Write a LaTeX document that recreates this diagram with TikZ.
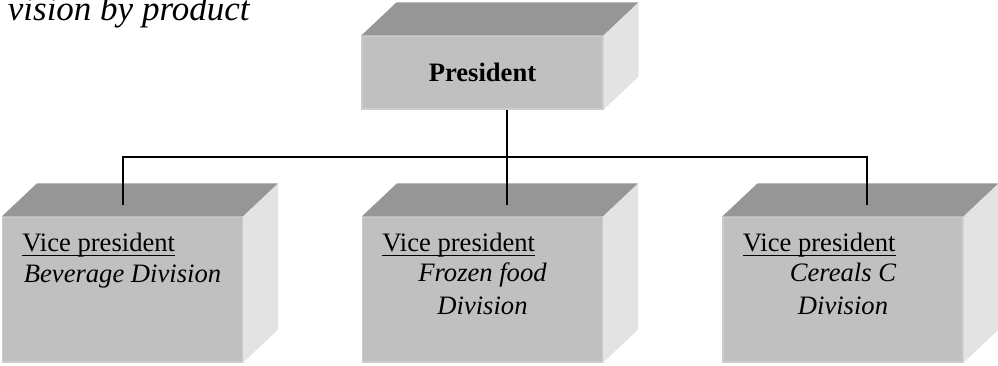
\documentclass[tikz,border=0pt]{standalone}
\usepackage{fontspec}
\setmainfont{Liberation Serif}
\usepackage{tikz}
\usetikzlibrary{positioning,calc}
\definecolor{frontgray}{RGB}{192,192,192}
\definecolor{topgray}{RGB}{150,150,150}
\definecolor{sidegray}{RGB}{227,227,227}
\definecolor{rimgray}{RGB}{204,204,204}
\newcommand\vpul[1]{\setbox0\hbox{#1}\rlap{\rule[-2.4pt]{\wd0}{0.7pt}}#1}
\tikzset{
  every node/.style={
    font=\fontsize{13.3}{15.7}\selectfont
  },
  front face/.style={
    fill=frontgray,
    draw=rimgray,
    line width=0.6pt,
    inner sep=0pt
  },
  top box/.style={
    front face,
    minimum width=120.5pt,
    minimum height=36.5pt
  },
  div box/.style={
    front face,
    minimum width=120pt,
    minimum height=72.5pt
  },
  top face/.style={
    fill=topgray
  },
  side face/.style={
    fill=sidegray
  },
  title/.style={
    inner sep=0pt,
    font=\fontsize{17.5}{20}\selectfont\itshape
  },
  vp/.style={
    inner sep=0pt
  },
  unit/.style={
    inner sep=0pt,
    font=\fontsize{13.3}{15.7}\selectfont\itshape
  },
  conn/.style={
    line width=1pt
  }
}

\begin{document}
\begin{tikzpicture}[x=0.5pt,y=-0.5pt]
    \useasboundingbox (0,0) rectangle (998,365);

    \node[title,anchor=base east] (head) at (250,20) {vision by product};

    \path{
      node[top box] (pres) at (482.5,72.5) {\textbf{President}}
      node[div box] (bev) at (122.5,289.5) {}
      node[div box] (frz) at (482.5,289.5) {}
      node[div box] (cer) at (843,289.5) {}
    };

    \foreach \b in {pres,bev,frz,cer}{
      \fill[top face] (\b.north west) -- ++(35,-33) -- ($(\b.north east)+(35,-33)$) -- (\b.north east) -- cycle;
      \fill[side face] (\b.north east) -- ++(35,-33) -- ($(\b.south east)+(35,-33)$) -- (\b.south east) -- cycle;
    }

    \path{
      node[vp,anchor=base west] (bev_vp) at ($(bev.north west)+(20,35)$) {\vpul{Vice president}}
      node[unit,anchor=base] (bev_unit) at ($(bev.north)+(0,66)$) {Beverage Division}
      node[vp,anchor=base west] (frz_vp) at ($(frz.north west)+(20,35)$) {\vpul{Vice president}}
      node[unit,anchor=base] (frz_unit) at ($(frz.north)+(0,65)$) {Frozen food}
      node[unit,anchor=base] (frz_div) at ($(frz.north)+(0,98)$) {Division}
      node[vp,anchor=base west] (cer_vp) at ($(cer.north west)+(20,35)$) {\vpul{Vice president}}
      node[unit,anchor=base] (cer_unit) at ($(cer.north)+(0,65)$) {Cereals C}
      node[unit,anchor=base] (cer_div) at ($(cer.north)+(0,98)$) {Division}
    };

    % drop points on the top faces
    \coordinate (bev_top) at (123,205);
    \coordinate (frz_top) at (507,205);
    \coordinate (cer_top) at (867,205);
    \coordinate (bus) at (507,157);

    \draw[conn] (pres.south -| frz_top) -- (frz_top);
    \draw[conn] (bev_top) -- (bev_top |- bus) -- (cer_top |- bus) -- (cer_top);
  \end{tikzpicture}
\end{document}
